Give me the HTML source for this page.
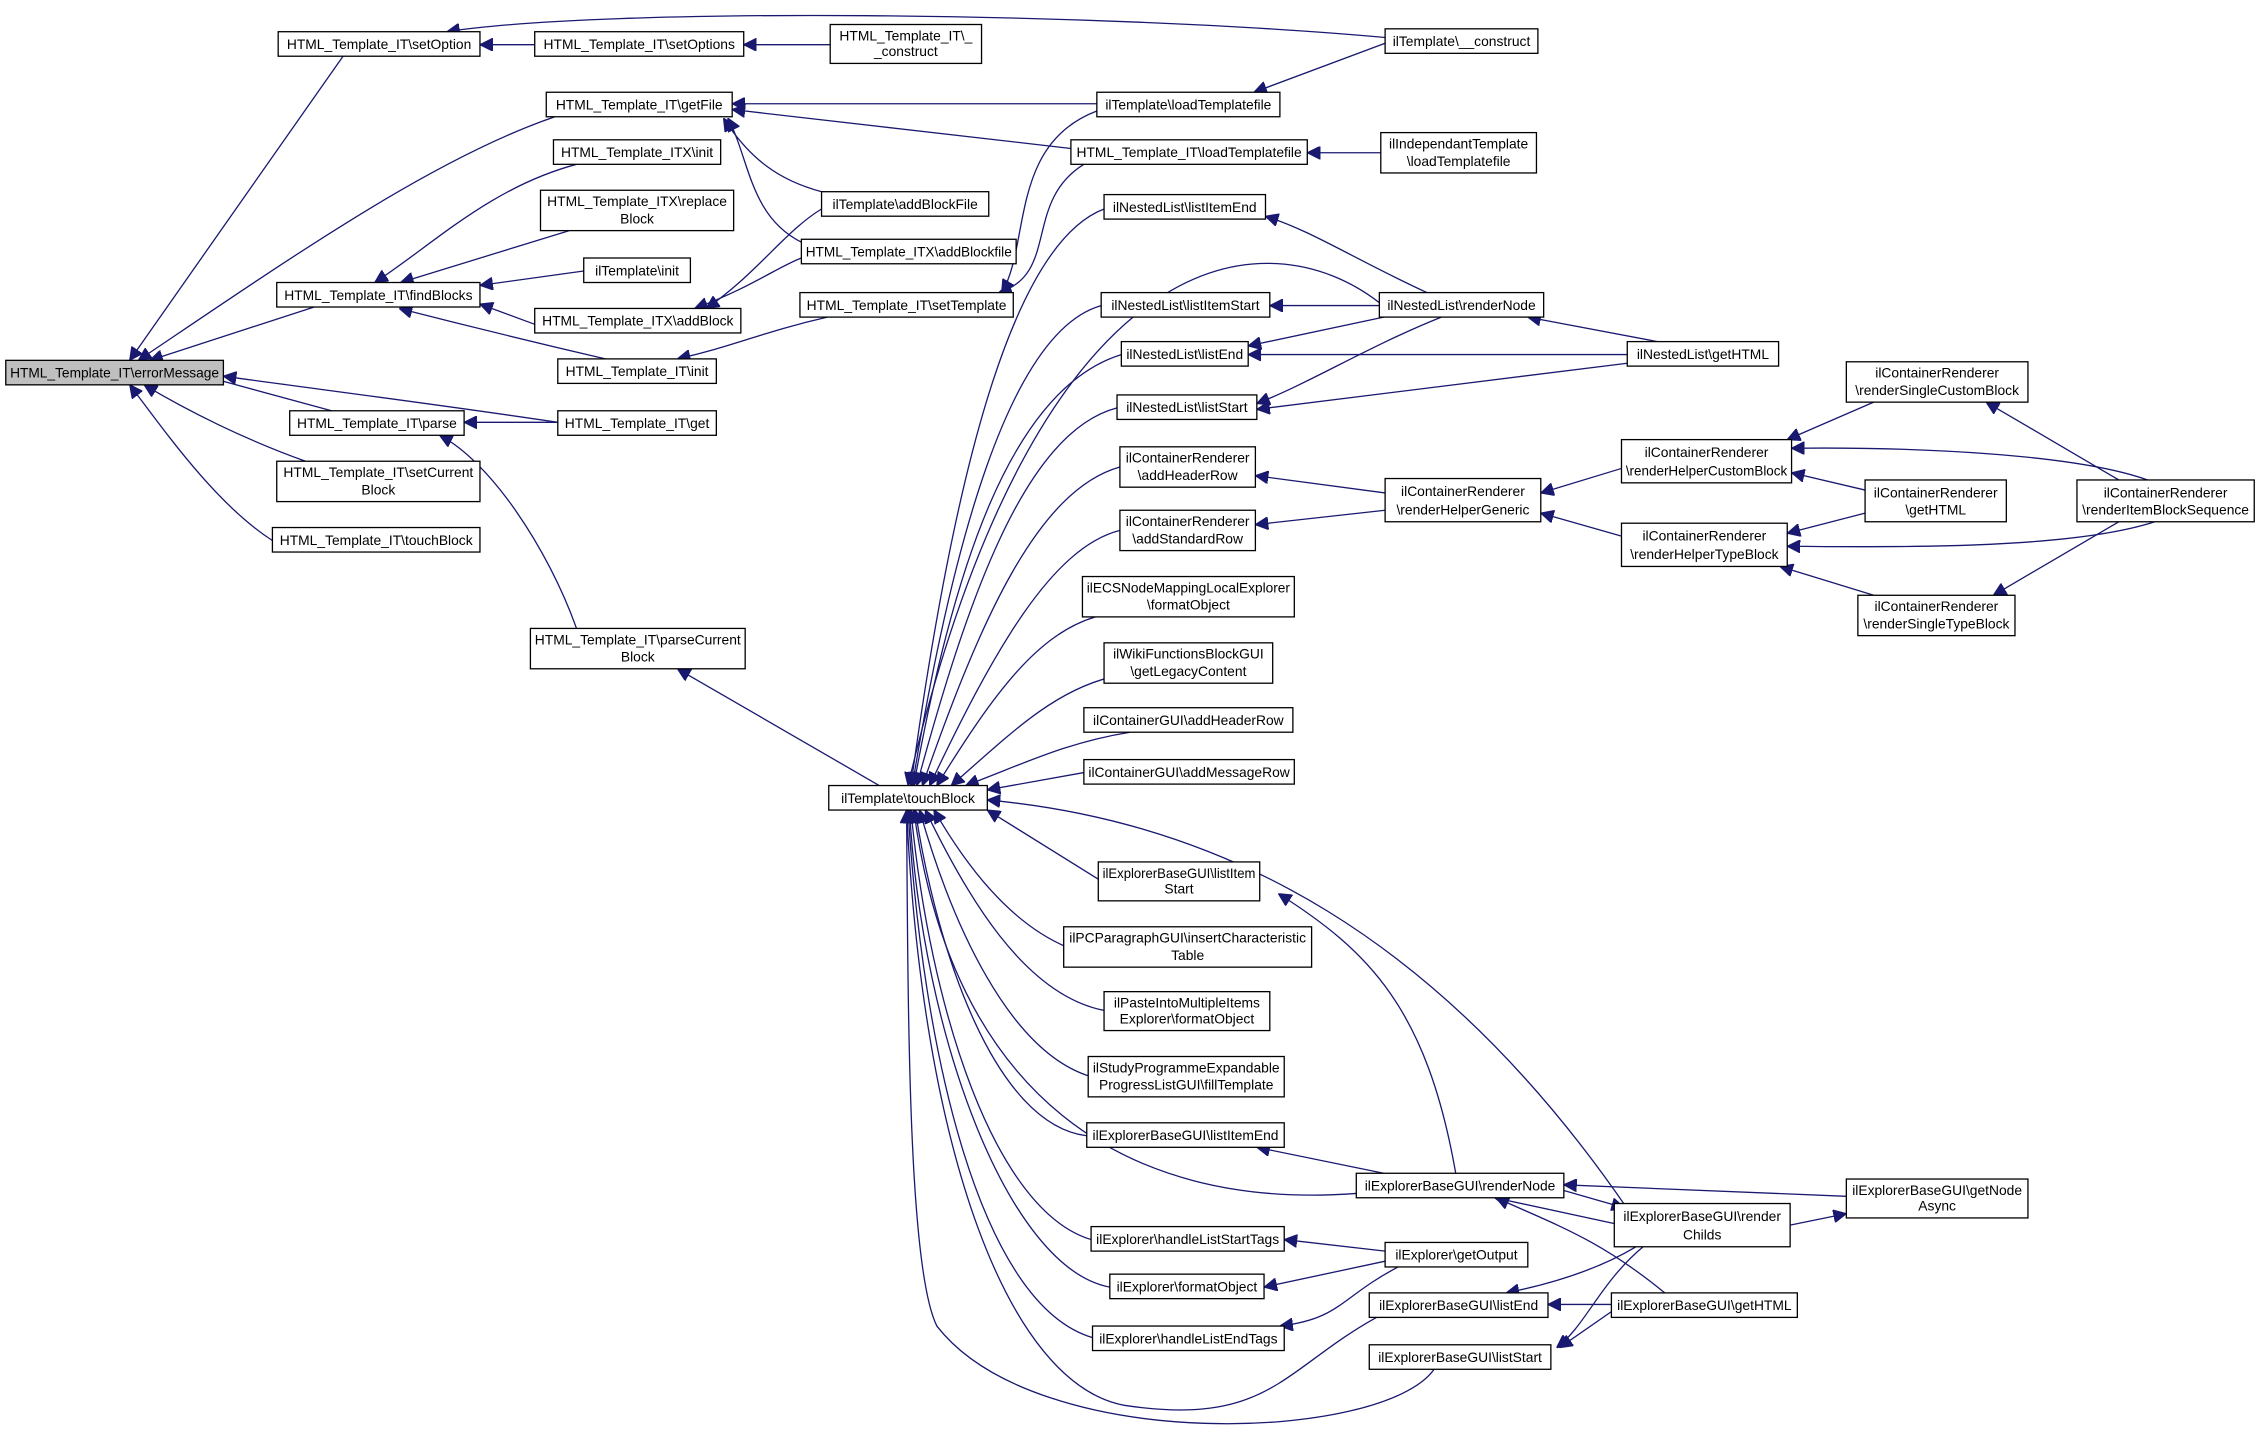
<!DOCTYPE html>
<html><head><meta charset="utf-8"><style>
html,body{margin:0;padding:0;background:#fff;}
svg{display:block;}
text{font-family:"Liberation Sans",sans-serif;font-size:9.6px;fill:#000;text-anchor:middle;}
rect{fill:#fff;stroke:#000;stroke-width:0.9;}
path{fill:none;stroke:#191970;stroke-width:0.9;}
</style></head><body>
<svg width="2260" height="1450" viewBox="0 0 1568 1006" preserveAspectRatio="none" xmlns="http://www.w3.org/2000/svg">
<defs><marker id="a" viewBox="0 0 10 10" refX="10" refY="5" markerWidth="9" markerHeight="9" markerUnits="userSpaceOnUse" orient="auto"><path d="M0,0 L10,5 L0,10 z" style="fill:#191970;stroke:#191970"/></marker></defs>
<g marker-end="url(#a)">
<!-- top-left cluster -->
<path d="M961,26 C760,8 420,5 310,22"/>
<path d="M371,31 L333,31"/>
<path d="M576,31 L516,31"/>
<path d="M238,39 L90,250"/>
<path d="M385,81 C300,110 200,180 96,250"/>
<path d="M218,213 L104,250"/>
<path d="M387,293 C300,280 220,270 155,261"/>
<path d="M230,285 L120,255"/>
<path d="M212,320 C170,305 130,285 100,267"/>
<path d="M189,375 C150,350 115,300 90,267"/>
<path d="M400,114 C340,130 300,170 260,196"/>
<path d="M395,160 L278,196"/>
<path d="M405,188 L333,198"/>
<path d="M371,225 L333,211"/>
<path d="M420,249 C360,235 320,225 277,214"/>
<path d="M761,72 L508,72"/>
<path d="M743,103 L508,76"/>
<path d="M570,133 C540,125 520,110 502,82"/>
<path d="M556,168 C520,150 520,110 505,82"/>
<path d="M570,145 C545,160 525,190 490,214"/>
<path d="M556,179 C540,185 520,200 482,214"/>
<path d="M574,220 C530,230 510,240 470,249"/>
<path d="M387,293 L322,293"/>
<path d="M400,436 C380,380 340,320 305,302"/>
<path d="M610,545 L470,464"/>
<path d="M961,30 L870,64"/>
<path d="M958,106 L907,106"/>
<path d="M761,77 C700,100 715,170 695,203"/>
<path d="M752,114 C710,140 735,190 693,203"/>
<!-- touchBlock callers (top) -->
<path d="M766,145 C700,170 660,340 632,545"/>
<path d="M957,210 C880,150 720,160 630,545"/>
<path d="M764,212 C700,230 660,380 633,545"/>
<path d="M778,246 C700,270 660,400 634,545"/>
<path d="M775,283 C710,300 670,420 636,545"/>
<path d="M777,324 C720,340 680,430 640,545"/>
<path d="M777,368 C730,380 690,450 645,545"/>
<path d="M760,428 C720,440 690,480 650,545"/>
<path d="M770,470 C730,480 700,510 660,545"/>
<path d="M784,508 C740,515 710,530 670,545"/>
<path d="M752,536 L685,548"/>
<path d="M1130,840 C1000,650 850,570 685,555"/>
<!-- touchBlock callers (bottom) -->
<path d="M762,610 L685,562"/>
<path d="M740,657 C700,640 670,600 648,562"/>
<path d="M766,701 C710,690 670,620 642,562"/>
<path d="M757,747 C700,730 660,640 638,562"/>
<path d="M754,788 C690,780 650,660 635,562"/>
<path d="M941,828 C780,840 660,760 634,562"/>
<path d="M757,860 C690,840 645,700 632,562"/>
<path d="M770,893 C700,880 640,720 631,562"/>
<path d="M758,928 C680,905 640,730 630,562"/>
<path d="M955,914 C890,950 880,990 780,975 C700,960 640,800 629,562"/>
<path d="M995,950 C960,1000 720,1010 650,920 C630,880 630,700 629,562"/>
<!-- nested list -->
<path d="M990,203 C940,180 910,160 878,150"/>
<path d="M957,212 L881,212"/>
<path d="M960,220 L866,240"/>
<path d="M1129,246 L866,246"/>
<path d="M1000,220 C950,240 910,265 872,280"/>
<path d="M1129,252 L872,284"/>
<path d="M1150,237 L1060,220"/>
<!-- container renderer -->
<path d="M961,342 L871,330"/>
<path d="M961,354 L871,364"/>
<path d="M1125,325 L1069,342"/>
<path d="M1125,372 L1069,356"/>
<path d="M1300,279 L1240,305"/>
<path d="M1490,333 C1440,315 1330,310 1243,311"/>
<path d="M1294,340 L1243,328"/>
<path d="M1294,356 L1240,370"/>
<path d="M1495,362 C1440,380 1330,380 1240,379"/>
<path d="M1300,413 L1235,393"/>
<path d="M1470,333 L1378,279"/>
<path d="M1470,362 L1383,413"/>
<!-- explorer -->
<path d="M960,814 L872,796"/>
<path d="M1010,814 C990,700 950,660 887,620"/>
<path d="M1281,830 L1085,822"/>
<path d="M1085,826 L1127,838"/>
<path d="M1125,850 L1037,831"/>
<path d="M1155,897 C1110,860 1080,850 1038,831"/>
<path d="M1242,850 L1281,842"/>
<path d="M1135,865 C1110,880 1080,890 1045,897"/>
<path d="M1118,905 L1074,905"/>
<path d="M1140,865 C1110,890 1100,920 1080,935"/>
<path d="M1118,910 L1082,935"/>
<path d="M961,868 L891,860"/>
<path d="M961,875 L877,893"/>
<path d="M970,879 C930,900 930,915 888,920"/>
</g>
<!-- nodes -->
<rect x="4" y="250" width="151" height="17" style="fill:#bfbfbf"/><text x="79.5" y="262">HTML_Template_IT\errorMessage</text>
<rect x="193" y="22" width="140" height="17"/><text x="263" y="34">HTML_Template_IT\setOption</text>
<rect x="371" y="22" width="145" height="17"/><text x="443.5" y="34">HTML_Template_IT\setOptions</text>
<rect x="576" y="17" width="105" height="27"/><text x="628.5" y="28">HTML_Template_IT\_</text><text x="628.5" y="39">_construct</text>
<rect x="961" y="20" width="106" height="17"/><text x="1014" y="32">ilTemplate\__construct</text>
<rect x="379" y="64" width="129" height="17"/><text x="443.5" y="76">HTML_Template_IT\getFile</text>
<rect x="761" y="64" width="127" height="17"/><text x="824.5" y="76">ilTemplate\loadTemplatefile</text>
<rect x="384" y="97" width="116" height="17"/><text x="442" y="109">HTML_Template_ITX\init</text>
<rect x="375" y="132" width="134" height="28"/><text x="442" y="143">HTML_Template_ITX\replace</text><text x="442" y="155">Block</text>
<rect x="405" y="179" width="74" height="17"/><text x="442" y="191">ilTemplate\init</text>
<rect x="192" y="196" width="141" height="17"/><text x="262.5" y="208">HTML_Template_IT\findBlocks</text>
<rect x="371" y="214" width="143" height="17"/><text x="442.5" y="226">HTML_Template_ITX\addBlock</text>
<rect x="387" y="249" width="110" height="17"/><text x="442" y="261">HTML_Template_IT\init</text>
<rect x="201" y="285" width="121" height="17"/><text x="261.5" y="297">HTML_Template_IT\parse</text>
<rect x="387" y="285" width="110" height="17"/><text x="442" y="297">HTML_Template_IT\get</text>
<rect x="192" y="320" width="141" height="28"/><text x="262.5" y="331">HTML_Template_IT\setCurrent</text><text x="262.5" y="343">Block</text>
<rect x="189" y="366" width="144" height="17"/><text x="261" y="378">HTML_Template_IT\touchBlock</text>
<rect x="368" y="436" width="149" height="28"/><text x="442.5" y="447">HTML_Template_IT\parseCurrent</text><text x="442.5" y="459">Block</text>
<rect x="570" y="133" width="116" height="17"/><text x="628" y="145">ilTemplate\addBlockFile</text>
<rect x="556" y="166" width="149" height="17"/><text x="630.5" y="178">HTML_Template_ITX\addBlockfile</text>
<rect x="555" y="203" width="148" height="17"/><text x="629" y="215">HTML_Template_IT\setTemplate</text>
<rect x="743" y="97" width="164" height="17"/><text x="825" y="109">HTML_Template_IT\loadTemplatefile</text>
<rect x="958" y="92" width="108" height="28"/><text x="1012" y="103">ilIndependantTemplate</text><text x="1012" y="115">\loadTemplatefile</text>
<rect x="766" y="135" width="112" height="17"/><text x="822" y="147">ilNestedList\listItemEnd</text>
<rect x="764" y="203" width="117" height="17"/><text x="822.5" y="215">ilNestedList\listItemStart</text>
<rect x="778" y="237" width="88" height="17"/><text x="822" y="249">ilNestedList\listEnd</text>
<rect x="775" y="274" width="97" height="17"/><text x="823.5" y="286">ilNestedList\listStart</text>
<rect x="957" y="203" width="114" height="17"/><text x="1014" y="215">ilNestedList\renderNode</text>
<rect x="1129" y="237" width="105" height="17"/><text x="1181.5" y="249">ilNestedList\getHTML</text>
<rect x="777" y="310" width="94" height="28"/><text x="824" y="321">ilContainerRenderer</text><text x="824" y="333">\addHeaderRow</text>
<rect x="777" y="354" width="94" height="28"/><text x="824" y="365">ilContainerRenderer</text><text x="824" y="377">\addStandardRow</text>
<rect x="961" y="332" width="108" height="30"/><text x="1015" y="344">ilContainerRenderer</text><text x="1015" y="357">\renderHelperGeneric</text>
<rect x="1125" y="305" width="118" height="30"/><text x="1184" y="317">ilContainerRenderer</text><text x="1184" y="330">\renderHelperCustomBlock</text>
<rect x="1125" y="363" width="115" height="30"/><text x="1182.5" y="375">ilContainerRenderer</text><text x="1182.5" y="388">\renderHelperTypeBlock</text>
<rect x="1281" y="251" width="126" height="28"/><text x="1344" y="262">ilContainerRenderer</text><text x="1344" y="274">\renderSingleCustomBlock</text>
<rect x="1294" y="333" width="98" height="29"/><text x="1343" y="345">ilContainerRenderer</text><text x="1343" y="357">\getHTML</text>
<rect x="1441" y="333" width="123" height="29"/><text x="1502.5" y="345">ilContainerRenderer</text><text x="1502.5" y="357">\renderItemBlockSequence</text>
<rect x="1289" y="413" width="109" height="28"/><text x="1343.5" y="424">ilContainerRenderer</text><text x="1343.5" y="436">\renderSingleTypeBlock</text>
<rect x="751" y="400" width="147" height="28"/><text x="824.5" y="411">ilECSNodeMappingLocalExplorer</text><text x="824.5" y="423">\formatObject</text>
<rect x="766" y="446" width="117" height="28"/><text x="824.5" y="457">ilWikiFunctionsBlockGUI</text><text x="824.5" y="469">\getLegacyContent</text>
<rect x="752" y="491" width="145" height="17"/><text x="824.5" y="503">ilContainerGUI\addHeaderRow</text>
<rect x="752" y="527" width="146" height="17"/><text x="825" y="539">ilContainerGUI\addMessageRow</text>
<rect x="575" y="545" width="110" height="17"/><text x="630" y="557">ilTemplate\touchBlock</text>
<rect x="762" y="598" width="112" height="27"/><text x="818" y="609">ilExplorerBaseGUI\listItem</text><text x="818" y="620">Start</text>
<rect x="738" y="643" width="172" height="28"/><text x="824" y="654">ilPCParagraphGUI\insertCharacteristic</text><text x="824" y="666">Table</text>
<rect x="766" y="688" width="115" height="27"/><text x="823.5" y="699">ilPasteIntoMultipleItems</text><text x="823.5" y="710">Explorer\formatObject</text>
<rect x="755" y="733" width="136" height="28"/><text x="823" y="744">ilStudyProgrammeExpandable</text><text x="823" y="756">ProgressListGUI\fillTemplate</text>
<rect x="754" y="779" width="137" height="17"/><text x="822.5" y="791">ilExplorerBaseGUI\listItemEnd</text>
<rect x="941" y="814" width="144" height="17"/><text x="1013" y="826">ilExplorerBaseGUI\renderNode</text>
<rect x="757" y="851" width="134" height="17"/><text x="824" y="863">ilExplorer\handleListStartTags</text>
<rect x="770" y="884" width="107" height="17"/><text x="823.5" y="896">ilExplorer\formatObject</text>
<rect x="758" y="920" width="133" height="17"/><text x="824.5" y="932">ilExplorer\handleListEndTags</text>
<rect x="961" y="862" width="99" height="17"/><text x="1010.5" y="874">ilExplorer\getOutput</text>
<rect x="1120" y="835" width="122" height="30"/><text x="1181" y="847">ilExplorerBaseGUI\render</text><text x="1181" y="860">Childs</text>
<rect x="1281" y="818" width="126" height="27"/><text x="1344" y="829">ilExplorerBaseGUI\getNode</text><text x="1344" y="840">Async</text>
<rect x="950" y="897" width="124" height="17"/><text x="1012" y="909">ilExplorerBaseGUI\listEnd</text>
<rect x="1118" y="897" width="129" height="17"/><text x="1182.5" y="909">ilExplorerBaseGUI\getHTML</text>
<rect x="950" y="933" width="126" height="17"/><text x="1013" y="945">ilExplorerBaseGUI\listStart</text>
</svg>
<script>
(function(){var rs=document.querySelectorAll('rect');rs.forEach(function(r){var x=+r.getAttribute('x'),y=+r.getAttribute('y'),w=+r.getAttribute('width'),h=+r.getAttribute('height');document.querySelectorAll('text').forEach(function(t){var tx=+t.getAttribute('x'),ty=+t.getAttribute('y');if(tx>x&&tx<x+w&&ty>y&&ty<y+h){try{if(t.getComputedTextLength()>w-6){t.setAttribute('textLength',w-6);t.setAttribute('lengthAdjust','spacingAndGlyphs');}}catch(e){}}});});})();
</script>
</body></html>
